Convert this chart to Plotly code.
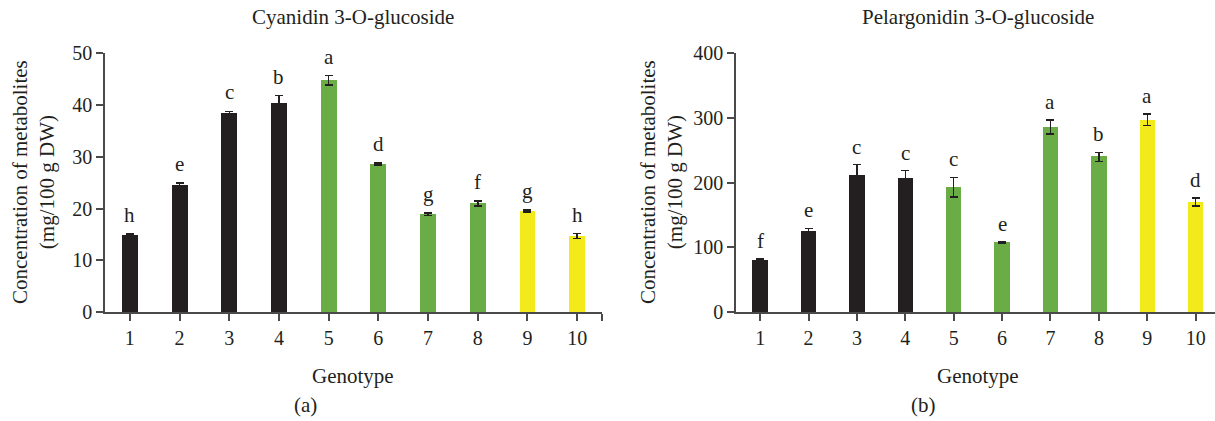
import plotly.graph_objects as go

genotypes = [1, 2, 3, 4, 5, 6, 7, 8, 9, 10]
tick_labels = ["1", "2", "3", "4", "5", "6", "7", "8", "9", "10"]

cyanidin = [14.9, 24.5, 38.5, 40.3, 44.8, 28.6, 18.9, 21.0, 19.5, 14.7]
cyanidin_err = [0.15, 0.4, 0.3, 1.5, 0.9, 0.2, 0.2, 0.5, 0.2, 0.45]
cyanidin_letters = ["h", "e", "c", "b", "a", "d", "g", "f", "g", "h"]

pelargonidin = [80, 125, 211, 206, 193, 108, 286, 240, 297, 170]
pelargonidin_err = [2, 4.5, 17, 12.5, 15, 1, 10.5, 7, 9, 6]
pelargonidin_letters = ["f", "e", "c", "c", "c", "e", "a", "b", "a", "d"]

BLACK = "#231f20"
GREEN = "#6aac46"
YELLOW = "#f2ea1a"
bar_colors = [BLACK] * 4 + [GREEN] * 4 + [YELLOW] * 2

FONT = "Liberation Serif"
TXT = "#231f20"
AX = "#4a4a4a"

fig = go.Figure()

fig.add_trace(go.Bar(
    x=genotypes, y=cyanidin, marker=dict(color=bar_colors, line=dict(width=0)),
    width=0.32,
    error_y=dict(type="data", array=cyanidin_err, color=BLACK, thickness=1.5, width=4),
    xaxis="x", yaxis="y", showlegend=False,
))
fig.add_trace(go.Bar(
    x=genotypes, y=pelargonidin, marker=dict(color=bar_colors, line=dict(width=0)),
    width=0.32,
    error_y=dict(type="data", array=pelargonidin_err, color=BLACK, thickness=1.5, width=4),
    xaxis="x2", yaxis="y2", showlegend=False,
))

annotations = []
for xv, v, e, lab in zip(genotypes, cyanidin, cyanidin_err, cyanidin_letters):
    annotations.append(dict(x=xv, y=v + e, xref="x", yref="y", text=lab, showarrow=False,
                            yanchor="bottom", yshift=5, font=dict(family=FONT, size=21, color=TXT)))
for xv, v, e, lab in zip(genotypes, pelargonidin, pelargonidin_err, pelargonidin_letters):
    annotations.append(dict(x=xv, y=v + e, xref="x2", yref="y2", text=lab, showarrow=False,
                            yanchor="bottom", yshift=4, font=dict(family=FONT, size=21, color=TXT)))

W, H = 1215, 421
def px(xp):
    return xp / W
def py(yp):
    return (H - yp) / H

# titles and labels
for txt, xc, yc in [("Cyanidin 3-O-glucoside", 353, 17), ("Pelargonidin 3-O-glucoside", 978, 17),
                    ("Genotype", 353, 376), ("Genotype", 978, 376),
                    ("(a)", 305, 405), ("(b)", 923, 405)]:
    annotations.append(dict(x=px(xc), y=py(yc), xref="paper", yref="paper", text=txt,
                            showarrow=False, xanchor="center", yanchor="middle",
                            font=dict(family=FONT, size=21, color=TXT)))

ytitle = "Concentration of metabolites<br>(mg/100 g DW)"
for xc in [33, 661]:
    annotations.append(dict(x=px(xc), y=py(182), xref="paper", yref="paper", text=ytitle,
                            showarrow=False, textangle=-90, xanchor="center", yanchor="middle",
                            font=dict(family=FONT, size=21, color=TXT)))

axis_common = dict(showgrid=False, zeroline=False, showline=True, linecolor=AX, linewidth=1.6,
                   ticks="outside", tickcolor=AX, tickwidth=1.6, ticklen=7, automargin=False,
                   tickfont=dict(family=FONT, size=20, color=TXT))

fig.update_layout(
    width=W, height=H,
    margin=dict(l=0, r=0, t=0, b=0, pad=0),
    plot_bgcolor="white", paper_bgcolor="white",
    bargap=0.0,
    xaxis=dict(domain=[px(105), px(602)], range=[0.5, 10.5], anchor="y",
               tickvals=genotypes + [10.5], ticktext=tick_labels + [""], **axis_common),
    yaxis=dict(domain=[py(312), py(53.3)], range=[0, 50], anchor="x",
               tickvals=[0, 10, 20, 30, 40, 50], **axis_common),
    xaxis2=dict(domain=[px(736), 1.0], range=[0.5, 10.4], anchor="y2",
                tickvals=genotypes, ticktext=tick_labels, **axis_common),
    yaxis2=dict(domain=[py(312), py(53.3)], range=[0, 400], anchor="x2",
                tickvals=[0, 100, 200, 300, 400], **axis_common),
    annotations=annotations,
)

fig.write_html("out.html", config={"displayModeBar": False},
               post_script="document.body.style.margin='0';document.body.style.overflow='hidden';")
